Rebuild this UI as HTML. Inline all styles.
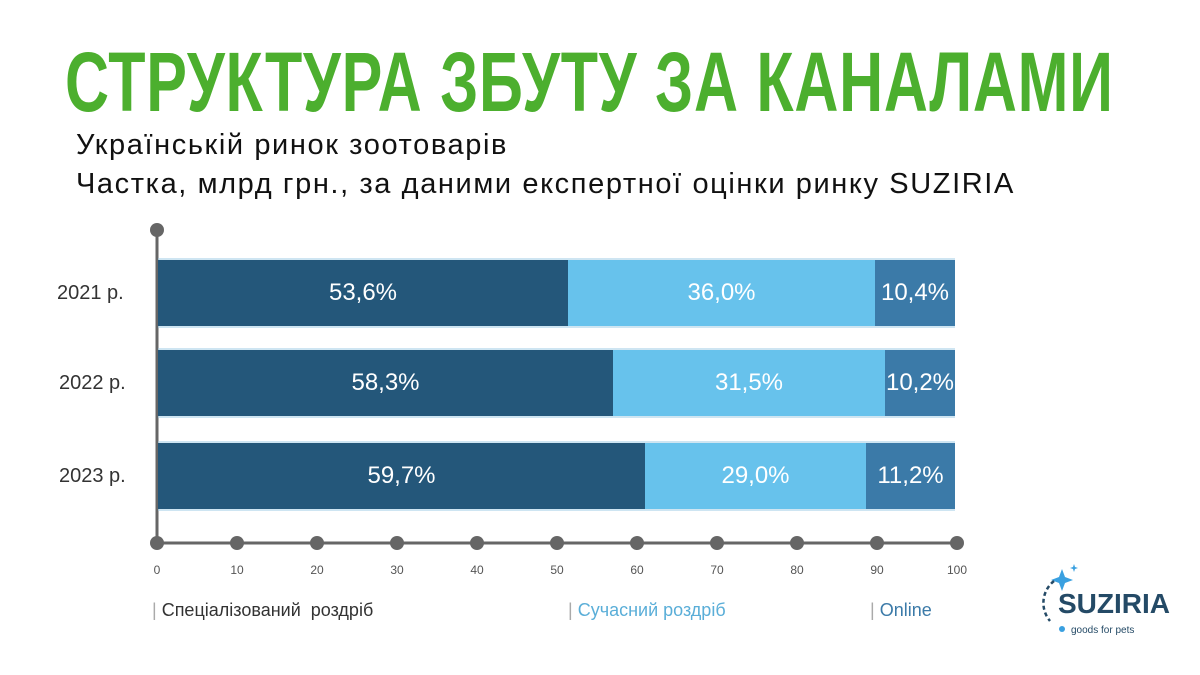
<!DOCTYPE html>
<html><head><meta charset="utf-8"><style>
body{margin:0;width:1200px;height:675px;background:#fff;overflow:hidden;position:relative;font-family:"Liberation Sans",sans-serif}
.t{position:absolute;left:65px;top:34px;font-size:84px;font-weight:bold;color:#4caf2e;white-space:nowrap;transform-origin:0 0;transform:scaleX(0.726);letter-spacing:1px}
.s{position:absolute;left:76px;font-size:29px;color:#111;white-space:nowrap;letter-spacing:1.6px}
.b{position:absolute;height:66px;color:#fff;font-size:24px;display:flex;align-items:center;justify-content:center}
.y{position:absolute;left:57px;font-size:20px;color:#333}
.x{position:absolute;top:563px;font-size:12px;color:#555;width:30px;margin-left:-15px;text-align:center}
.l{position:absolute;top:600px;font-size:18px;color:#333}
.l span{color:#aaa}
</style></head><body>
<div class="t">СТРУКТУРА ЗБУТУ ЗА КАНАЛАМИ</div>
<div class="s" style="top:129px">Українськiй ринок зоотоварiв</div>
<div class="s" style="top:168px">Частка, млрд грн., за даними експертної оцiнки ринку SUZIRIA</div>
<svg style="position:absolute;left:0;top:0" width="1200" height="675">
<line x1="157" y1="230" x2="157" y2="543" stroke="#666" stroke-width="3"/>
<line x1="157" y1="543" x2="957" y2="543" stroke="#666" stroke-width="3"/>
<circle cx="157" cy="230" r="7" fill="#666"/>
<g fill="#666">
<circle cx="157" cy="543" r="7"/><circle cx="237" cy="543" r="7"/><circle cx="317" cy="543" r="7"/><circle cx="397" cy="543" r="7"/><circle cx="477" cy="543" r="7"/><circle cx="557" cy="543" r="7"/><circle cx="637" cy="543" r="7"/><circle cx="717" cy="543" r="7"/><circle cx="797" cy="543" r="7"/><circle cx="877" cy="543" r="7"/><circle cx="957" cy="543" r="7"/>
</g>
<g stroke="#9ccbe6" stroke-width="1">
<line x1="158" y1="259" x2="955" y2="259"/><line x1="158" y1="327" x2="955" y2="327"/>
<line x1="158" y1="349" x2="955" y2="349"/><line x1="158" y1="417" x2="955" y2="417"/>
<line x1="158" y1="442" x2="955" y2="442"/><line x1="158" y1="510" x2="955" y2="510"/>
</g>
</svg>
<div class="b" style="left:158px;width:410px;top:260px;background:#24577a">53,6%</div>
<div class="b" style="left:568px;width:307px;top:260px;background:#67c2ec">36,0%</div>
<div class="b" style="left:875px;width:80px;top:260px;background:#3b7aa8">10,4%</div>
<div class="b" style="left:158px;width:455px;top:350px;background:#24577a">58,3%</div>
<div class="b" style="left:613px;width:272px;top:350px;background:#67c2ec">31,5%</div>
<div class="b" style="left:885px;width:70px;top:350px;background:#3b7aa8">10,2%</div>
<div class="b" style="left:158px;width:487px;top:443px;background:#24577a">59,7%</div>
<div class="b" style="left:645px;width:221px;top:443px;background:#67c2ec">29,0%</div>
<div class="b" style="left:866px;width:89px;top:443px;background:#3b7aa8">11,2%</div>
<div class="y" style="top:282px">2021 р.</div>
<div class="y" style="top:372px;left:59px">2022 р.</div>
<div class="y" style="top:465px;left:59px">2023 р.</div>
<div class="x" style="left:157px">0</div><div class="x" style="left:237px">10</div><div class="x" style="left:317px">20</div><div class="x" style="left:397px">30</div><div class="x" style="left:477px">40</div><div class="x" style="left:557px">50</div><div class="x" style="left:637px">60</div><div class="x" style="left:717px">70</div><div class="x" style="left:797px">80</div><div class="x" style="left:877px">90</div><div class="x" style="left:957px">100</div>
<div class="l" style="left:152px"><span>|</span> Спецiалiзований&nbsp; роздрiб</div>
<div class="l" style="left:568px;color:#5aaed8"><span>|</span> Сучасний роздрiб</div>
<div class="l" style="left:870px;color:#3b7aa8"><span>|</span> Online</div>
<svg style="position:absolute;left:1030px;top:555px" width="150" height="90">
<path d="M32 14 l3 8 8 3 -8 3 -3 8 -3 -8 -8 -3 8 -3z" fill="#3aa0e0"/>
<path d="M44 9 l1 3 3 1 -3 1 -1 3 -1 -3 -3 -1 3 -1z" fill="#3aa0e0"/>
<path d="M24 26 A28 28 0 0 0 20 66" fill="none" stroke="#244a66" stroke-width="2.5" stroke-dasharray="4 3"/>
<circle cx="32" cy="74" r="3" fill="#3aa0e0"/>
<text x="28" y="58" font-family="Liberation Sans" font-weight="bold" font-size="28" fill="#244a66">SUZIRIA</text>
<text x="41" y="78" font-family="Liberation Sans" font-size="10" fill="#244a66">goods for pets</text>
</svg>
</body></html>
